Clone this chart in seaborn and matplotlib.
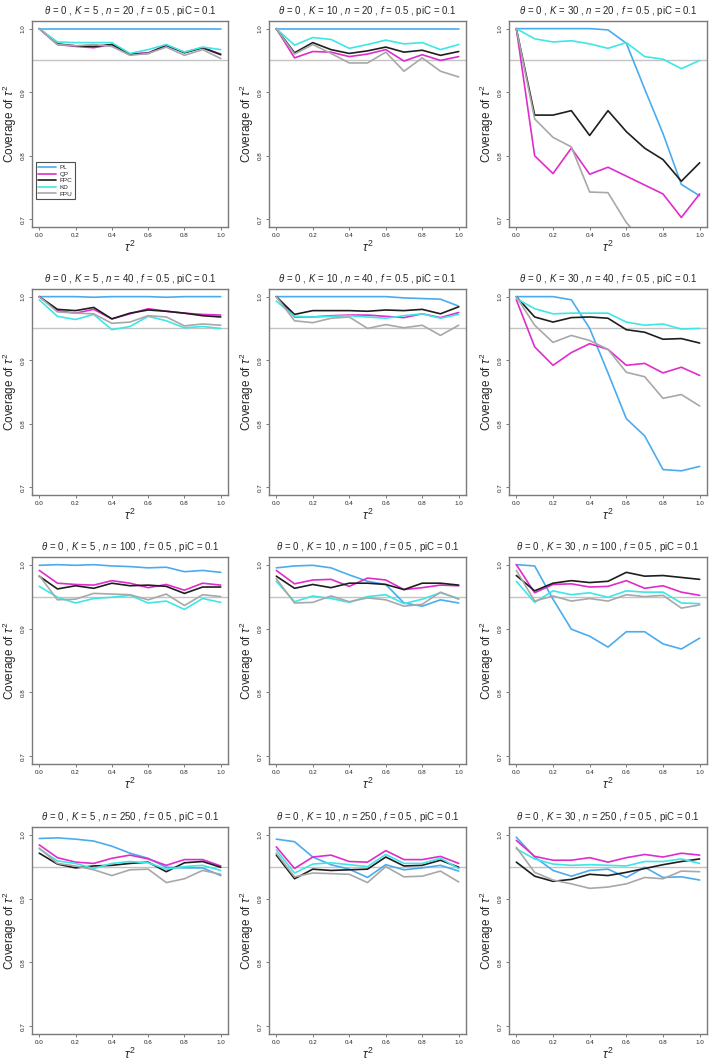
import numpy as np
import pandas as pd
import matplotlib
matplotlib.use("Agg")
import matplotlib.pyplot as plt
from matplotlib.lines import Line2D
import seaborn as sns

sns.set_theme(style="white")
plt.rcParams['font.family'] = ['Liberation Sans', 'DejaVu Sans']
plt.rcParams['mathtext.fontset'] = 'custom'
plt.rcParams['mathtext.rm'] = 'Liberation Sans'
plt.rcParams['mathtext.it'] = 'Liberation Sans:italic'

tau2 = [0.0, 0.1, 0.2, 0.3, 0.4, 0.5, 0.6, 0.7, 0.8, 0.9, 1.0]
methods = ["PL", "QP", "FPC", "KD", "FPU"]
colors = {"PL": "#4aacef", "QP": "#e02ccc", "FPC": "#1e1e1e", "KD": "#3ee6e6", "FPU": "#a8a8a8"}
K_values = [5, 10, 30]
n_values = [20, 40, 100, 250]

# ---- K=5, n=20
k5_n20_PL = [1.0, 1.0, 1.0, 1.0, 1.0, 1.0, 1.0, 1.0, 1.0, 1.0, 1.0]
k5_n20_QP = [1.0, 0.975, 0.972, 0.970, 0.975, 0.960, 0.962, 0.973, 0.963, 0.970, 0.960]
k5_n20_FPC = [1.0, 0.976, 0.973, 0.972, 0.975, 0.960, 0.961, 0.974, 0.962, 0.970, 0.959]
k5_n20_KD = [1.0, 0.979, 0.978, 0.978, 0.978, 0.961, 0.967, 0.975, 0.963, 0.971, 0.967]
k5_n20_FPU = [1.0, 0.975, 0.973, 0.975, 0.972, 0.958, 0.961, 0.971, 0.958, 0.967, 0.953]

# ---- K=10, n=20
k10_n20_PL = [1.0, 1.0, 1.0, 1.0, 1.0, 1.0, 1.0, 1.0, 1.0, 1.0, 1.0]
k10_n20_QP = [1.0, 0.954, 0.964, 0.963, 0.956, 0.960, 0.967, 0.949, 0.959, 0.950, 0.956]
k10_n20_FPC = [1.0, 0.962, 0.978, 0.967, 0.961, 0.965, 0.971, 0.963, 0.966, 0.958, 0.964]
k10_n20_KD = [1.0, 0.974, 0.986, 0.983, 0.969, 0.975, 0.982, 0.976, 0.978, 0.967, 0.975]
k10_n20_FPU = [1.0, 0.960, 0.975, 0.961, 0.946, 0.946, 0.963, 0.933, 0.954, 0.933, 0.924]

# ---- K=30, n=20
k30_n20_PL = [1.0, 1.0, 1.0, 1.0, 1.0, 0.998, 0.977, 0.905, 0.835, 0.755, 0.737]
k30_n20_QP = [1.0, 0.800, 0.772, 0.812, 0.771, 0.782, 0.768, 0.754, 0.740, 0.703, 0.740]
k30_n20_FPC = [1.0, 0.864, 0.864, 0.871, 0.832, 0.871, 0.838, 0.812, 0.794, 0.760, 0.789]
k30_n20_KD = [1.0, 0.984, 0.979, 0.981, 0.976, 0.969, 0.978, 0.956, 0.952, 0.937, 0.950]
k30_n20_FPU = [1.0, 0.858, 0.829, 0.814, 0.743, 0.742, 0.695, 0.662, 0.640, 0.610, 0.600]

# ---- K=5, n=40
k5_n40_PL = [1.0, 1.0, 1.0, 0.999, 1.0, 1.0, 1.0, 0.999, 1.0, 1.0, 1.0]
k5_n40_QP = [1.0, 0.978, 0.974, 0.980, 0.965, 0.973, 0.981, 0.977, 0.974, 0.972, 0.971]
k5_n40_FPC = [1.0, 0.980, 0.978, 0.983, 0.965, 0.974, 0.979, 0.977, 0.974, 0.970, 0.968]
k5_n40_KD = [0.995, 0.969, 0.964, 0.972, 0.948, 0.953, 0.969, 0.962, 0.951, 0.953, 0.950]
k5_n40_FPU = [1.0, 0.976, 0.974, 0.973, 0.958, 0.960, 0.970, 0.968, 0.954, 0.957, 0.955]

# ---- K=10, n=40
k10_n40_PL = [1.0, 1.0, 1.0, 1.0, 1.0, 1.0, 1.0, 0.998, 0.997, 0.996, 0.985]
k10_n40_QP = [1.0, 0.968, 0.968, 0.970, 0.971, 0.971, 0.969, 0.967, 0.973, 0.967, 0.975]
k10_n40_FPC = [1.0, 0.972, 0.978, 0.978, 0.978, 0.977, 0.979, 0.978, 0.980, 0.973, 0.984]
k10_n40_KD = [0.993, 0.969, 0.968, 0.969, 0.970, 0.968, 0.966, 0.970, 0.973, 0.966, 0.972]
k10_n40_FPU = [1.0, 0.962, 0.959, 0.966, 0.968, 0.950, 0.956, 0.951, 0.955, 0.939, 0.955]

# ---- K=30, n=40
k30_n40_PL = [1.0, 1.0, 1.0, 0.995, 0.950, 0.880, 0.808, 0.781, 0.728, 0.726, 0.733]
k30_n40_QP = [0.995, 0.921, 0.892, 0.912, 0.926, 0.917, 0.892, 0.895, 0.880, 0.889, 0.876]
k30_n40_FPC = [1.0, 0.968, 0.960, 0.967, 0.968, 0.966, 0.948, 0.944, 0.933, 0.934, 0.927]
k30_n40_KD = [0.997, 0.981, 0.973, 0.974, 0.974, 0.974, 0.960, 0.955, 0.957, 0.949, 0.950]
k30_n40_FPU = [1.0, 0.955, 0.928, 0.939, 0.931, 0.917, 0.881, 0.874, 0.840, 0.846, 0.828]

# ---- K=5, n=100
k5_n100_PL = [0.999, 1.0, 0.999, 1.0, 0.998, 0.997, 0.995, 0.996, 0.989, 0.991, 0.988]
k5_n100_QP = [0.991, 0.971, 0.969, 0.968, 0.975, 0.971, 0.964, 0.969, 0.960, 0.971, 0.968]
k5_n100_FPC = [0.982, 0.962, 0.967, 0.963, 0.971, 0.967, 0.968, 0.966, 0.955, 0.965, 0.965]
k5_n100_KD = [0.966, 0.949, 0.940, 0.947, 0.949, 0.952, 0.940, 0.943, 0.930, 0.947, 0.941]
k5_n100_FPU = [0.983, 0.945, 0.946, 0.955, 0.954, 0.953, 0.945, 0.954, 0.936, 0.953, 0.950]

# ---- K=10, n=100
k10_n100_PL = [0.995, 0.998, 0.999, 0.995, 0.984, 0.974, 0.969, 0.940, 0.935, 0.945, 0.940]
k10_n100_QP = [0.991, 0.970, 0.976, 0.977, 0.966, 0.979, 0.976, 0.961, 0.964, 0.968, 0.967]
k10_n100_FPC = [0.982, 0.963, 0.969, 0.964, 0.971, 0.971, 0.969, 0.961, 0.971, 0.971, 0.968]
k10_n100_KD = [0.974, 0.942, 0.951, 0.947, 0.941, 0.950, 0.953, 0.939, 0.946, 0.956, 0.947]
k10_n100_FPU = [0.978, 0.940, 0.941, 0.951, 0.942, 0.948, 0.945, 0.935, 0.938, 0.957, 0.946]

# ---- K=30, n=100
k30_n100_PL = [1.0, 0.998, 0.946, 0.899, 0.888, 0.871, 0.895, 0.895, 0.876, 0.868, 0.885]
k30_n100_QP = [1.0, 0.956, 0.969, 0.970, 0.965, 0.966, 0.975, 0.963, 0.967, 0.957, 0.952]
k30_n100_FPC = [0.983, 0.959, 0.971, 0.975, 0.972, 0.974, 0.988, 0.982, 0.983, 0.980, 0.977]
k30_n100_KD = [0.974, 0.941, 0.959, 0.953, 0.956, 0.949, 0.959, 0.957, 0.957, 0.940, 0.939]
k30_n100_FPU = [0.991, 0.943, 0.951, 0.943, 0.947, 0.943, 0.953, 0.950, 0.952, 0.932, 0.937]

# ---- K=5, n=250
k5_n250_PL = [0.994, 0.995, 0.993, 0.990, 0.982, 0.971, 0.963, 0.949, 0.948, 0.948, 0.936]
k5_n250_QP = [0.984, 0.964, 0.957, 0.955, 0.963, 0.968, 0.962, 0.952, 0.961, 0.961, 0.951]
k5_n250_FPC = [0.971, 0.954, 0.948, 0.951, 0.952, 0.955, 0.957, 0.942, 0.956, 0.958, 0.949]
k5_n250_KD = [0.978, 0.959, 0.955, 0.947, 0.955, 0.958, 0.956, 0.946, 0.950, 0.952, 0.944]
k5_n250_FPU = [0.979, 0.955, 0.951, 0.945, 0.936, 0.945, 0.946, 0.925, 0.931, 0.944, 0.938]

# ---- K=10, n=250
k10_n250_PL = [0.993, 0.989, 0.965, 0.953, 0.946, 0.933, 0.953, 0.945, 0.948, 0.952, 0.943]
k10_n250_QP = [0.981, 0.947, 0.965, 0.968, 0.958, 0.957, 0.975, 0.961, 0.961, 0.966, 0.955]
k10_n250_FPC = [0.968, 0.931, 0.946, 0.944, 0.945, 0.946, 0.965, 0.951, 0.952, 0.960, 0.949]
k10_n250_KD = [0.976, 0.940, 0.954, 0.956, 0.953, 0.950, 0.969, 0.955, 0.955, 0.963, 0.947]
k10_n250_FPU = [0.971, 0.934, 0.940, 0.939, 0.938, 0.925, 0.950, 0.934, 0.935, 0.943, 0.926]

# ---- K=30, n=250
k30_n250_PL = [0.996, 0.965, 0.944, 0.935, 0.944, 0.946, 0.933, 0.949, 0.933, 0.934, 0.929]
k30_n250_QP = [0.991, 0.966, 0.960, 0.960, 0.964, 0.957, 0.964, 0.969, 0.965, 0.971, 0.968]
k30_n250_FPC = [0.957, 0.935, 0.927, 0.930, 0.938, 0.936, 0.941, 0.947, 0.953, 0.958, 0.962]
k30_n250_KD = [0.978, 0.962, 0.954, 0.952, 0.953, 0.952, 0.951, 0.958, 0.958, 0.962, 0.955]
k30_n250_FPU = [0.980, 0.941, 0.929, 0.923, 0.916, 0.918, 0.923, 0.933, 0.931, 0.943, 0.942]

panels = {}
g = globals()
for n in n_values:
    for K in K_values:
        rows = []
        for m in methods:
            vals = g[f"k{K}_n{n}_{m}"]
            for t, v in zip(tau2, vals):
                rows.append({"tau2": t, "coverage": v, "method": m})
        panels[(K, n)] = pd.DataFrame(rows)

W, H = 709, 1060
fig = plt.figure(figsize=(W / 100, H / 100), dpi=100)

col_lr = [(32, 228), (269, 466), (509, 707)]
row_tb = [(21, 227), (289, 495), (557, 764), (827, 1034)]

for ri, n in enumerate(n_values):
    for ci, K in enumerate(K_values):
        l, r = col_lr[ci]
        t, b = row_tb[ri]
        ax = fig.add_axes([l / W, 1 - b / H, (r - l) / W, (b - t) / H])
        df = panels[(K, n)]
        ax.axhline(0.95, color="#c4c4c4", lw=1.0, zorder=1)
        sns.lineplot(data=df, x="tau2", y="coverage", hue="method",
                     hue_order=methods, palette=colors, ax=ax,
                     linewidth=1.2, legend=False, zorder=3)
        ax.set_xlim(-0.04, 1.04)
        ax.set_ylim(0.688, 1.012)
        ax.set_xticks([0.0, 0.2, 0.4, 0.6, 0.8, 1.0])
        ax.set_xticklabels(["0.0", "0.2", "0.4", "0.6", "0.8", "1.0"])
        ax.set_yticks([0.7, 0.8, 0.9, 1.0])
        ax.set_yticklabels(["0.7", "0.8", "0.9", "1.0"], rotation=90, va="center")
        ax.tick_params(axis="both", labelsize=4.5, length=2.5, width=0.6,
                       color="#666666", direction="out", pad=2,
                       bottom=True, left=True)
        for s in ax.spines.values():
            s.set_color("#7a7a7a")
            s.set_linewidth(1.0)
        ax.set_xlabel(r"$\tau^2$", fontsize=9, labelpad=1)
        ax.set_ylabel(r"Coverage of $\tau^2$", fontsize=8.5, labelpad=1)
        ax.set_title(rf"$\theta\,=\,0$ , $K\,=\,{K}$ , $n\,=\,{n}$ , $f\,=\,0.5$ , piC = 0.1",
                     fontsize=6.9, pad=5)
        if ri == 0 and ci == 0:
            handles = [Line2D([], [], color=colors[m], lw=1.2) for m in methods]
            leg = ax.legend(handles, methods, loc="upper left",
                            bbox_to_anchor=(0.02, 0.315), fontsize=4.6,
                            frameon=True, fancybox=False, handlelength=2.8,
                            handletextpad=0.5, borderpad=0.4, labelspacing=0.18,
                            borderaxespad=0.0)
            leg.get_frame().set_edgecolor("#222222")
            leg.get_frame().set_linewidth(0.8)

fig.savefig("out.png", dpi=100)
